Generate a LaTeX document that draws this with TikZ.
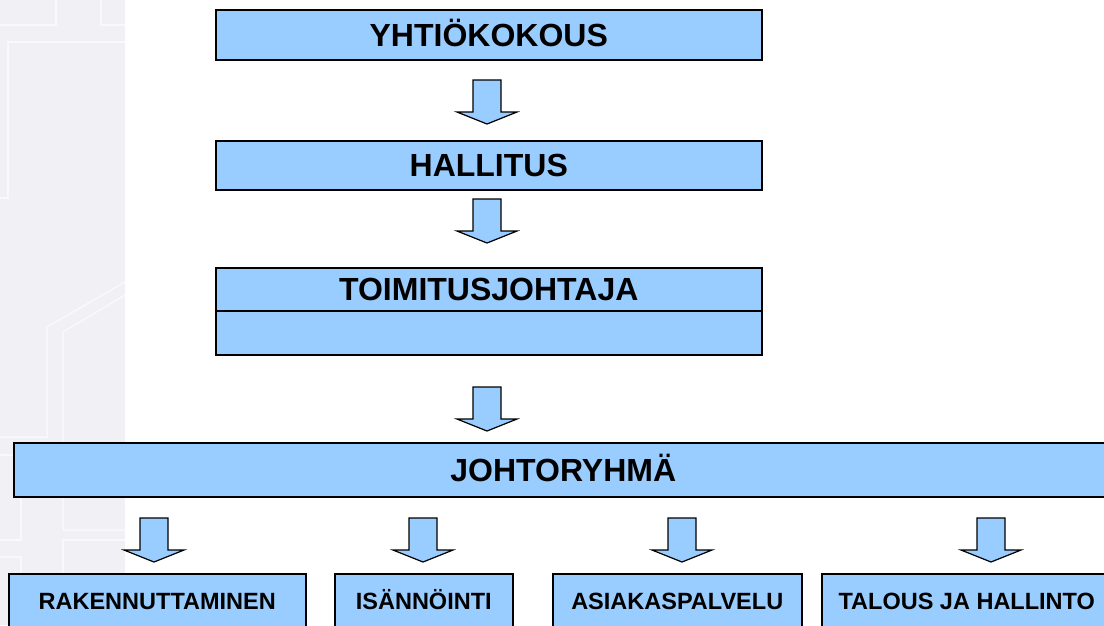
\documentclass[tikz,border=0pt]{standalone}
\usepackage{fontspec}
\setmainfont{Liberation Sans}
\definecolor{boxblue}{HTML}{99CCFF}
\definecolor{panel}{HTML}{F0F0F5}
\definecolor{panelline}{HTML}{F9F9FC}
\begin{document}
\begin{tikzpicture}[x=1pt,y=-1pt,
  orgbox/.style={draw=black, line width=1.5pt, fill=boxblue, inner sep=0pt, anchor=north west},
  bigtext/.style={font=\bfseries\fontsize{32}{36}\selectfont, text height=22.9pt, text depth=0pt},
  smalltext/.style={font=\bfseries\fontsize{23.5}{26}\selectfont, text height=16.8pt, text depth=0pt},
  deco/.style={draw=panelline, line width=1.5pt},
  blockarrow/.pic={\draw[draw=black, line width=1.2pt, fill=boxblue, line join=miter]
     (-14,0) -- (14,0) -- (14,32) -- (30,32) -- (0,44) -- (-30,32) -- (-14,32) -- cycle;}]
\useasboundingbox (0,0) rectangle (1104,625);
\clip (0,0) rectangle (1104,625);
\fill[white] (0,0) rectangle (1104,625);
% left decorative panel
\fill[panel] (0,0) rectangle (125,625);
\draw[deco] (56,0) -- (56,25) -- (0,25);
\draw[deco] (101,0) -- (101,25) -- (125,25);
\draw[deco] (125,42) -- (8,42) -- (8,198) -- (0,198);
\draw[deco] (125,282) -- (47,327) -- (47,437) -- (0,437);
\draw[deco] (125,295) -- (63,332) -- (63,530) -- (125,530);
\draw[deco] (0,455) -- (21,455) -- (21,540) -- (0,540);
\draw[deco] (125,540) -- (63,540) -- (63,625);
\draw[deco] (0,557) -- (21,557) -- (21,625);
% boxes
\node[orgbox, bigtext, minimum width=546pt, minimum height=50pt] (yk) at (215,9) {YHTIÖKOKOUS};
\node[orgbox, bigtext, minimum width=546pt, minimum height=49pt] (hal) at (215,140) {HALLITUS};
\node[orgbox, bigtext, minimum width=546pt, minimum height=43pt] (tj) at (215,267) {TOIMITUSJOHTAJA};
\node[orgbox, minimum width=546pt, minimum height=44pt] (tjb) at (215,310) {};
\node[orgbox, bigtext, minimum width=1099pt, minimum height=54pt] (jr) at (13,442) {JOHTORYHMÄ};
\node[orgbox, smalltext, minimum width=297pt, minimum height=54pt] (rak) at (8,573) {RAKENNUTTAMINEN};
\node[orgbox, smalltext, minimum width=178pt, minimum height=54pt] (isa) at (334,573) {ISÄNNÖINTI};
\node[orgbox, smalltext, minimum width=249pt, minimum height=54pt] (asi) at (552,573) {ASIAKASPALVELU};
\node[orgbox, smalltext, minimum width=290pt, minimum height=54pt] (tal) at (821,573) {TALOUS JA HALLINTO};
% block arrows
\coordinate (a1) at (487,80);
\coordinate (a2) at (487,199);
\coordinate (a3) at (487,387);
\coordinate (b1) at (154,518);
\coordinate (b2) at (423,518);
\coordinate (b3) at (682,518);
\coordinate (b4) at (991,518);
\foreach \c in {a1,a2,a3,b1,b2,b3,b4} { \pic at (\c) {blockarrow}; }
\end{tikzpicture}
\end{document}
